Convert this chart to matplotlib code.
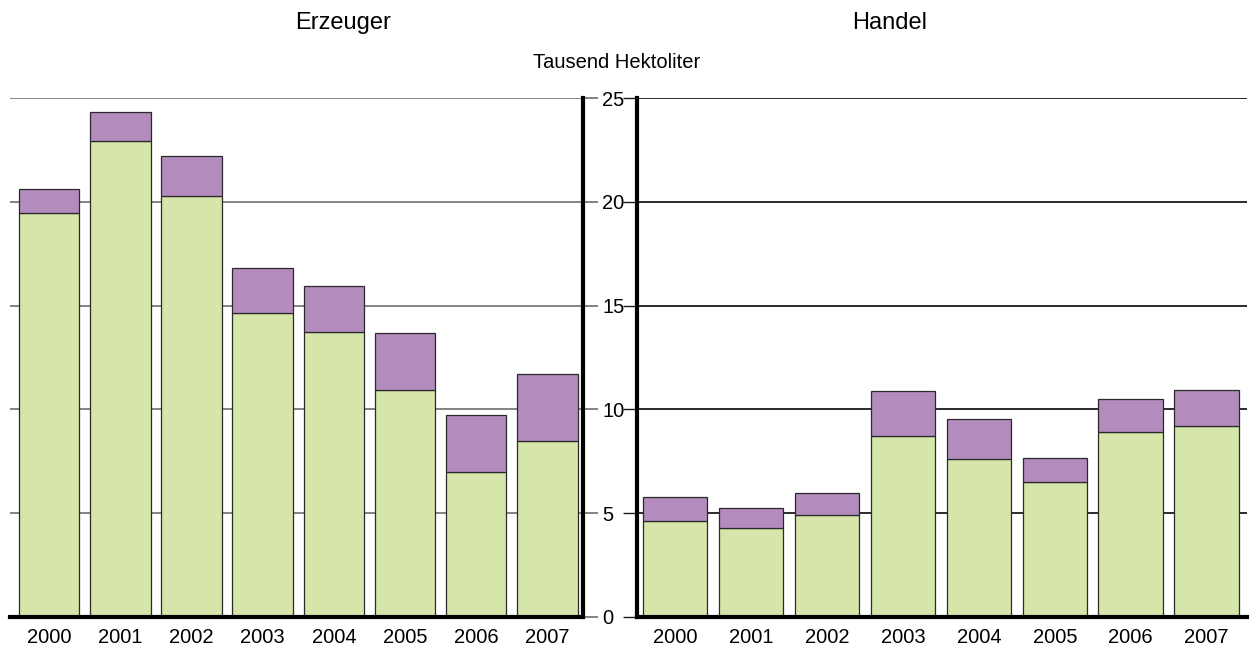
import matplotlib.pyplot as plt
import numpy as np

plt.rcParams['font.family'] = ['Liberation Sans', 'DejaVu Sans']

jahre = ["2000", "2001", "2002", "2003", "2004", "2005", "2006", "2007"]
# Erzeuger (Tausend Hektoliter)
erzeuger_unten = [19.47, 22.95, 20.26, 14.65, 13.74, 10.93, 7.0, 8.46]
erzeuger_oben = [1.16, 1.38, 1.97, 2.16, 2.20, 2.76, 2.72, 3.23]
# Handel
handel_unten = [4.62, 4.30, 4.92, 8.70, 7.61, 6.48, 8.90, 9.20]
handel_oben = [1.15, 0.96, 1.03, 2.17, 1.91, 1.17, 1.60, 1.73]
y_ticks = [0, 5, 10, 15, 20, 25]

gruen = "#d6e5aa"
lila = "#b38bbd"
rand = "#2a2a2a"

fig = plt.figure(figsize=(12.55, 6.51), dpi=100)
ax1 = fig.add_axes([10 / 1255, 1 - 617 / 651, 573 / 1255, 519 / 651])
ax2 = fig.add_axes([637 / 1255, 1 - 617 / 651, 610 / 1255, 519 / 651])

x = np.arange(len(jahre))


def panel(ax, unten, oben, gridcolor):
    ax.bar(x, unten, width=0.85, color=gruen, edgecolor=rand, linewidth=0.9, zorder=3)
    ax.bar(x, oben, bottom=unten, width=0.85, color=lila, edgecolor=rand, linewidth=0.9, zorder=3)
    ax.set_xlim(-0.55, 7.5)
    ax.set_ylim(0, 25)
    ax.set_yticks(y_ticks)
    ax.set_xticks(x)
    ax.set_xticklabels(jahre, fontsize=14.5)
    ax.tick_params(axis="x", length=0, pad=8)
    ax.grid(axis="y", color=gridcolor, linewidth=1.3, zorder=0)
    for s in ax.spines.values():
        s.set_visible(False)
    ax.spines["bottom"].set_visible(True)
    ax.spines["bottom"].set_linewidth(3)
    ax.spines["bottom"].set_zorder(4)


panel(ax1, erzeuger_unten, erzeuger_oben, "#7a7a7a")
ax1.yaxis.tick_right()
ax1.spines["right"].set_visible(True)
ax1.spines["right"].set_linewidth(3)
ax1.tick_params(axis="y", direction="out", length=11, width=1.3, color="#7a7a7a",
                pad=3, labelsize=14.5)

panel(ax2, handel_unten, handel_oben, "#1a1a1a")
ax2.set_xlim(-0.5, 7.53)
ax2.spines["left"].set_visible(True)
ax2.spines["left"].set_linewidth(3)
ax2.tick_params(axis="y", direction="out", length=10, width=1.0, color="#1a1a1a",
                labelleft=False)

fig.text(343 / 1255, 1 - 23 / 651, "Erzeuger", fontsize=17, ha="center", va="center")
fig.text(890 / 1255, 1 - 23 / 651, "Handel", fontsize=17, ha="center", va="center")
fig.text(617 / 1255, 1 - 62 / 651, "Tausend Hektoliter", fontsize=14.5,
         ha="center", va="center")

fig.savefig("out.png", dpi=100)
